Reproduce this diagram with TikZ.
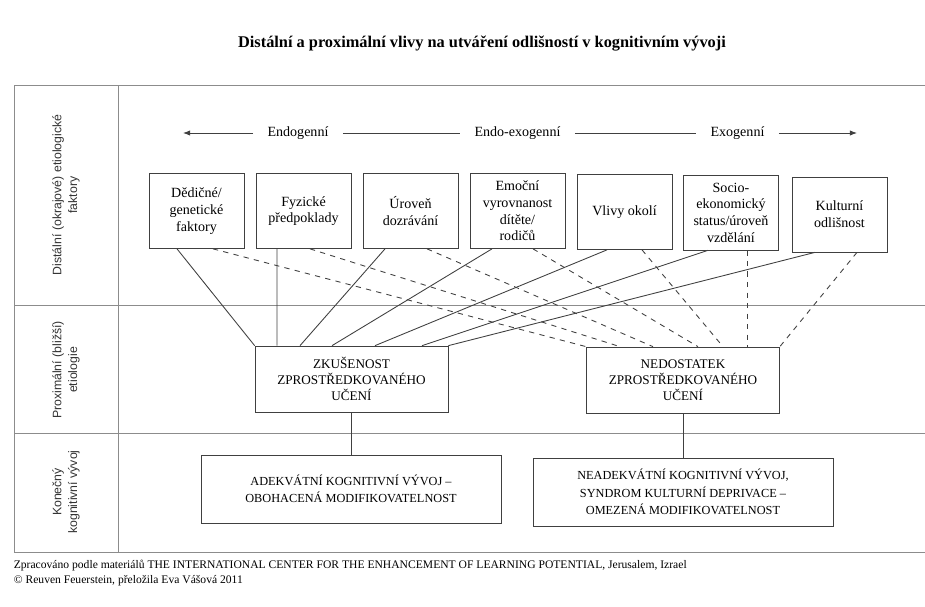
\documentclass[tikz,border=0pt]{standalone}
\usepackage{fontspec}
\setmainfont{Liberation Serif}
\setsansfont{Liberation Sans}
\usepackage{tikz}
\usetikzlibrary{positioning,arrows.meta}

\tikzset{
    factor/.style={draw=black!75, rectangle, minimum width=1.9cm, minimum height=1.5cm, align=center, inner sep=1pt, font=\fontsize{8}{9.5}\selectfont},
    mediation/.style={draw=black!75, rectangle, minimum width=3.86cm, minimum height=1.32cm, align=center, font=\fontsize{7.5}{9}\selectfont},
    outcome/.style={draw=black!75, rectangle, minimum width=6cm, minimum height=1.36cm, align=center, font=\fontsize{7}{10}\selectfont},
    rowlabel/.style={rotate=90, align=center, text=black!80, font=\sffamily\fontsize{7}{9}\selectfont},
    direction/.style={inner xsep=8pt, font=\fontsize{8}{9.5}\selectfont},
    tableline/.style={draw=black!45, line width=0.5pt},
    link/.style={draw=black!75, line width=0.5pt},
    nolink/.style={link, dashed}
}

\begin{document}
\begin{tikzpicture}
    \useasboundingbox (0,0) rectangle (18.5,-12.12);

    % Title
    \node (title) at (9.64,-0.88) {\bfseries\fontsize{9.3}{11}\selectfont Distální a proximální vlivy na utváření odlišností v kognitivním vývoji};

    % Table
    \draw[tableline] (18.5,-1.70) -- (0.28,-1.70) -- (0.28,-11.04) -- (18.5,-11.04);
    \draw[tableline] (2.36,-1.70) -- (2.36,-11.04);
    \draw[tableline] (0.28,-6.10) -- (18.5,-6.10);
    \draw[tableline] (0.28,-8.66) -- (18.5,-8.66);

    % Row labels
    \node[rowlabel] (distalni) at (1.32,-3.90) {Distální (okrajové) etiologické\\faktory};
    \node[rowlabel] (proximalni) at (1.32,-7.40) {Proximální (bližší)\\etiologie};
    \node[rowlabel] (konecny) at (1.32,-9.84) {Konečný\\kognitivní vývoj};

    % Direction
    \node[direction] (endo) at (5.96,-2.66) {Endogenní};
    \node[direction] (endoexo) at (10.35,-2.66) {Endo-exogenní};
    \node[direction] (exo) at (14.75,-2.66) {Exogenní};
    \coordinate (leftend) at (3.66,-2.66);
    \coordinate (rightend) at (17.14,-2.66);
    \draw[link, -{Latex[length=4pt,width=3pt]}] (endo) -- (leftend);
    \draw[link] (endo) -- (endoexo);
    \draw[link] (endoexo) -- (exo);
    \draw[link, -{Latex[length=4pt,width=3pt]}] (exo) -- (rightend);

    % Distal factors
    \node[factor] (dedicne) at (3.93,-4.22) {Dědičné/\\genetické\\faktory};
    \node[factor] (fyzicke) at (6.07,-4.22) {Fyzické\\předpoklady};
    \node[factor] (uroven) at (8.21,-4.22) {Úroveň\\dozrávání};
    \node[factor] (emocni) at (10.35,-4.22) {Emoční\\vyrovnanost\\dítěte/\\rodičů};
    \node[factor] (okoli) at (12.49,-4.24) {Vlivy okolí};
    \node[factor] (socio) at (14.62,-4.25) {Socio-\\ekonomický\\status/úroveň\\vzdělání};
    \node[factor] (kultura) at (16.79,-4.29) {Kulturní\\odlišnost};

    % Proximal
    \node[mediation] (zkusenost) at (7.03,-7.58) {ZKUŠENOST\\ZPROSTŘEDKOVANÉHO\\UČENÍ};
    \node[mediation] (nedostatek) at (13.66,-7.60) {NEDOSTATEK\\ZPROSTŘEDKOVANÉHO\\UČENÍ};

    % Outcome
    \node[outcome] (adekvatni) at (7.02,-9.78) {ADEKVÁTNÍ KOGNITIVNÍ VÝVOJ –\\OBOHACENÁ MODIFIKOVATELNOST};
    \node[outcome] (neadekvatni) at (13.66,-9.84) {NEADEKVÁTNÍ KOGNITIVNÍ VÝVOJ,\\SYNDROM KULTURNÍ DEPRIVACE –\\OMEZENÁ MODIFIKOVATELNOST};

    % Links to mediated learning
    \draw[link] ([xshift=-0.39cm]dedicne.south) -- (zkusenost.north west);
    \draw[link] ([xshift=-0.53cm]fyzicke.south) -- ([xshift=-1.49cm]zkusenost.north);
    \draw[link] ([xshift=-0.51cm]uroven.south) -- ([xshift=-1.03cm]zkusenost.north);
    \draw[link] ([xshift=-0.51cm]emocni.south) -- ([xshift=-0.39cm]zkusenost.north);
    \draw[link] ([xshift=-0.35cm]okoli.south) -- ([xshift=0.47cm]zkusenost.north);
    \draw[link] ([xshift=-0.46cm]socio.south) -- ([xshift=1.41cm]zkusenost.north);
    \draw[link] ([xshift=-0.49cm]kultura.south) -- (zkusenost.north east);

    % Links to lack of mediated learning
    \draw[nolink] ([xshift=0.33cm]dedicne.south) -- (nedostatek.north west);
    \draw[nolink] ([xshift=0.13cm]fyzicke.south) -- ([xshift=-1.26cm]nedostatek.north);
    \draw[nolink] ([xshift=0.33cm]uroven.south) -- ([xshift=-0.60cm]nedostatek.north);
    \draw[nolink] ([xshift=0.31cm]emocni.south) -- ([xshift=0.30cm]nedostatek.north);
    \draw[nolink] ([xshift=0.35cm]okoli.south) -- ([xshift=0.80cm]nedostatek.north);
    \draw[nolink] ([xshift=0.32cm]socio.south) -- ([xshift=1.28cm]nedostatek.north);
    \draw[nolink] ([xshift=0.35cm]kultura.south) -- (nedostatek.north east);

    % Down to outcome
    \draw[link] (zkusenost.south) -- (zkusenost.south |- adekvatni.north);
    \draw[link] (nedostatek.south) -- (nedostatek.south |- neadekvatni.north);

    % Source
    \node[anchor=west, align=left, inner sep=0pt, font=\fontsize{6.6}{8}\selectfont] (zdroj) at (0.27,-11.46) {Zpracováno podle materiálů THE INTERNATIONAL CENTER FOR THE ENHANCEMENT OF LEARNING POTENTIAL, Jerusalem, Izrael\\© Reuven Feuerstein, přeložila Eva Vášová 2011};
\end{tikzpicture}
\end{document}
